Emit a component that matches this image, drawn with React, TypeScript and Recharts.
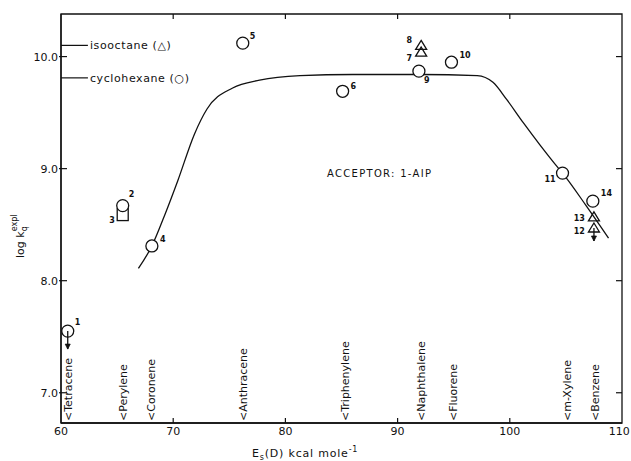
import {
  ComposedChart,
  Line,
  Scatter,
  XAxis,
  YAxis,
  ReferenceLine,
  ReferenceArea,
} from "recharts";

// axis ticks
const xTicks = [60, 70, 80, 90, 100, 110];
const yTicks = [7, 8, 9, 10];
const innerXTicks = [70, 80, 90, 100];
const xDomain = [60, 110];
const yDomain = [6.73, 10.38];

// fitted curve, log kq vs Es(D)
const curveE = [66.9, 68.1, 69.3, 70.4, 71.9, 73.0, 75.3, 77.7, 81.3, 86.0, 92.0, 97.1, 98.5, 99.7, 101.2, 102.7, 104.2, 104.7, 106.8, 108.8];
const curveLogK = [8.11, 8.31, 8.6, 8.89, 9.31, 9.53, 9.72, 9.79, 9.83, 9.84, 9.84, 9.83, 9.77, 9.62, 9.41, 9.21, 9.02, 8.96, 8.67, 8.38];

// cyclohexane (circles)
const circleIds = ["1", "2", "4", "5", "6", "9", "10", "11", "14"];
const circleE = [60.6, 65.5, 68.1, 76.2, 85.1, 91.9, 94.8, 104.7, 107.4];
const circleLogK = [7.55, 8.67, 8.31, 10.12, 9.69, 9.87, 9.95, 8.96, 8.71];

// isooctone (triangles)
const triangleIds = ["8", "7", "13", "12"];
const triangleE = [92.1, 92.1, 107.5, 107.5];
const triangleLogK = [10.1, 10.04, 8.57, 8.47];

// square
const squareIds = ["3"];
const squareE = [65.5];
const squareLogK = [8.59];

// upper limits (arrow down)
const upperLimits = ["1", "12"];

// donors marked along the x axis
const donorNames = ["Tetracene", "Perylene", "Coronene", "Anthracene", "Triphenylene", "Naphthalene", "Fluorene", "m-Xylene", "Benzene"];
const donorE = [60.6, 65.5, 68.0, 76.2, 85.3, 92.1, 94.9, 105.1, 107.6];

const FONT = "'DejaVu Sans', sans-serif";
const INK = "#111";

const curveData = curveE.map((x, i) => ({ x, y: curveLogK[i] }));
const circleData = circleE.map((x, i) => ({ x, y: circleLogK[i], id: circleIds[i] }));
const triangleData = triangleE.map((x, i) => ({ x, y: triangleLogK[i], id: triangleIds[i] }));
const squareData = squareE.map((x, i) => ({ x, y: squareLogK[i], id: squareIds[i] }));

// where each point number sits relative to its marker
const LABEL_POS: Record<string, [number, number, string]> = {
  "1": [7, -6, "start"],
  "2": [6, -9, "start"],
  "3": [-8, 8, "end"],
  "4": [8, -4, "start"],
  "5": [7, -4, "start"],
  "6": [8, -2, "start"],
  "7": [-9, 9, "end"],
  "8": [-9, -2, "end"],
  "9": [5, 12, "start"],
  "10": [8, -4, "start"],
  "11": [-7, 9, "end"],
  "13": [-9, 4, "end"],
  "12": [-9, 6, "end"],
  "14": [8, -5, "start"],
};

const PointLabel = ({ cx, cy, id }: any) => {
  const p = LABEL_POS[id] || [7, -5, "start"];
  return (
    <text x={cx + p[0]} y={cy + p[1]} textAnchor={p[2]} fontSize={8} fontWeight="bold" fontFamily={FONT} fill={INK}>
      {id}
    </text>
  );
};

const DownArrow = ({ cx, cy, len }: any) => (
  <g>
    <line x1={cx} y1={cy} x2={cx} y2={cy + len} stroke={INK} strokeWidth={1.3} />
    <path d={`M${cx - 2.5},${cy + len - 5} L${cx},${cy + len} L${cx + 2.5},${cy + len - 5} Z`} fill={INK} stroke={INK} strokeWidth={0.8} />
  </g>
);

const CircleShape = (props: any) => {
  const { cx, cy, payload } = props;
  const lim = upperLimits.includes(payload.id);
  return (
    <g>
      {lim && <DownArrow cx={cx} cy={cy} len={18} />}
      <circle cx={cx} cy={cy} r={6} fill={lim ? "none" : "#fff"} stroke={INK} strokeWidth={1.3} />
      <PointLabel cx={cx} cy={cy} id={payload.id} />
    </g>
  );
};

const TriangleShape = (props: any) => {
  const { cx, cy, payload } = props;
  const lim = upperLimits.includes(payload.id);
  return (
    <g>
      {lim && <DownArrow cx={cx} cy={cy} len={13} />}
      <path d={`M${cx},${cy - 5} L${cx + 5.5},${cy + 4} L${cx - 5.5},${cy + 4} Z`} fill="none" stroke={INK} strokeWidth={1.3} />
      <PointLabel cx={cx} cy={cy} id={payload.id} />
    </g>
  );
};

const SquareShape = (props: any) => {
  const { cx, cy, payload } = props;
  return (
    <g>
      <rect x={cx - 5.5} y={cy - 6} width={11} height={12} fill="none" stroke={INK} strokeWidth={1.3} />
      <PointLabel cx={cx} cy={cy} id={payload.id} />
    </g>
  );
};

const BottomTick = ({ x, y, payload }: any) => (
  <g>
    {payload.value > 60 && payload.value < 110 && <line x1={x} x2={x} y1={y} y2={y - 5} stroke={INK} strokeWidth={1.2} />}
    <text x={x} y={y + 12} textAnchor="middle" fontSize={11} fontFamily={FONT} fill={INK}>
      {payload.value}
    </text>
  </g>
);

const LeftTick = ({ x, y, payload }: any) => (
  <g>
    <line x1={x - 2} x2={x + 6} y1={y} y2={y} stroke={INK} strokeWidth={1.2} />
    <text x={x - 3} y={y + 4} textAnchor="end" fontSize={11} fontFamily={FONT} fill={INK}>
      {payload.value.toFixed(1)}
    </text>
  </g>
);

// inward ticks on the top and right edges of the frame
const TopTickMark = (props: any) => {
  const { viewBox } = props;
  return <line x1={viewBox.x} x2={viewBox.x} y1={viewBox.y} y2={viewBox.y + 5} stroke={INK} strokeWidth={1.2} />;
};
const RightTickMark = (props: any) => {
  const { viewBox } = props;
  const x = viewBox.x + viewBox.width;
  return <line x1={x} x2={x - 6} y1={viewBox.y} y2={viewBox.y} stroke={INK} strokeWidth={1.2} />;
};

const DonorLabel = (name: string) => (props: any) => {
  const { viewBox } = props;
  const tx = viewBox.x + 4;
  const ty = viewBox.y + viewBox.height - 2;
  return (
    <text x={tx} y={ty} transform={`rotate(-90 ${tx} ${ty})`} fontSize={11} fontFamily={FONT} fill={INK}>
      {"<" + name}
    </text>
  );
};

const LegendLabel = (text: string) => (props: any) => {
  const { viewBox } = props;
  return (
    <text x={viewBox.x + viewBox.width + 2} y={viewBox.y + 4} fontSize={11} letterSpacing={0.6} fontFamily={FONT} fill={INK}>
      {text}
    </text>
  );
};

export default function App() {
  return (
    <div style={{ position: "fixed", left: 0, top: 0, width: 631, height: 461, background: "#fff" }}>
      <ComposedChart width={631} height={461} margin={{ top: 14, right: 9, bottom: 0, left: 0 }}>
        <XAxis
          type="number"
          dataKey="x"
          domain={xDomain}
          ticks={xTicks}
          allowDataOverflow
          height={38}
          tickSize={0}
          tickMargin={0}
          tick={<BottomTick />}
          axisLine={{ stroke: INK, strokeWidth: 1.3 }}
          tickLine={false}
        />
        <YAxis
          type="number"
          domain={yDomain}
          ticks={yTicks}
          allowDataOverflow
          width={61}
          tickSize={0}
          tickMargin={0}
          tick={<LeftTick />}
          axisLine={{ stroke: INK, strokeWidth: 1.3 }}
          tickLine={false}
        />

        {/* plot frame */}
        <ReferenceArea
          x1={xDomain[0]}
          x2={xDomain[1]}
          y1={yDomain[0]}
          y2={yDomain[1]}
          fill="none"
          stroke={INK}
          strokeWidth={1.3}
          fillOpacity={0}
        />
        {innerXTicks.map((t) => (
          <ReferenceLine key={"tx" + t} x={t} stroke="none" label={{ content: TopTickMark }} />
        ))}
        {yTicks.map((t) => (
          <ReferenceLine key={"ty" + t} y={t} stroke="none" label={{ content: RightTickMark }} />
        ))}

        {/* solvent key on the left axis */}
        <ReferenceLine
          segment={[{ x: 60, y: 10.1 }, { x: 62.4, y: 10.1 }]}
          stroke={INK}
          strokeWidth={1.2}
          label={{ content: LegendLabel("isooctane (\u25B3)") }}
        />
        <ReferenceLine
          segment={[{ x: 60, y: 9.81 }, { x: 62.4, y: 9.81 }]}
          stroke={INK}
          strokeWidth={1.2}
          label={{ content: LegendLabel("cyclohexane (\u25CB)") }}
        />

        {donorE.map((e, i) => (
          <ReferenceLine key={donorNames[i]} x={e} stroke="none" label={{ content: DonorLabel(donorNames[i]) }} />
        ))}

        <Line
          data={curveData}
          dataKey="y"
          type="monotone"
          stroke={INK}
          strokeWidth={1.3}
          dot={false}
          activeDot={false}
          isAnimationActive={false}
        />
        <Scatter data={squareData} dataKey="y" shape={SquareShape} isAnimationActive={false} />
        <Scatter data={triangleData} dataKey="y" shape={TriangleShape} isAnimationActive={false} />
        <Scatter data={circleData} dataKey="y" shape={CircleShape} isAnimationActive={false} />

        <text x={327} y={177} fontSize={10} letterSpacing={1.3} fontFamily={FONT} fill={INK}>
          ACCEPTOR: 1-AIP
        </text>
        <text x={24} y={258} transform="rotate(-90 24 258)" fontSize={11} fontFamily={FONT} fill={INK}>
          log k
          <tspan fontSize={8} dy={3}>q</tspan>
          <tspan fontSize={8} dx={-5} dy={-10}>expl</tspan>
        </text>
        <text x={252} y={457} fontSize={11} letterSpacing={0.8} fontFamily={FONT} fill={INK}>
          E<tspan fontSize={8} dy={3}>s</tspan>
          <tspan dy={-3}>(D) kcal mole</tspan>
          <tspan fontSize={8} dy={-5}>-1</tspan>
        </text>
      </ComposedChart>
    </div>
  );
}
